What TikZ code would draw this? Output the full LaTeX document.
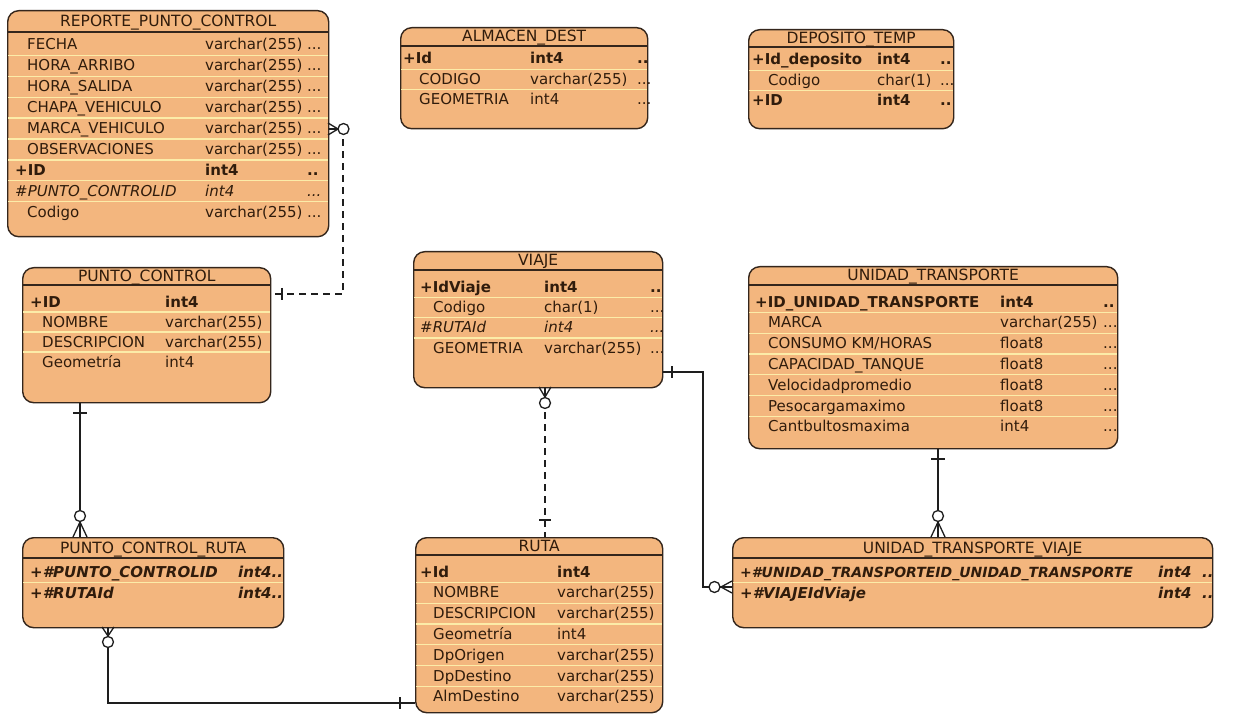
\documentclass[tikz,border=0pt]{standalone}
\usepackage{fontspec}
\setmainfont{DejaVu Sans}
\definecolor{erfill}{RGB}{243,182,126}
\definecolor{erline}{RGB}{52,38,28}
\definecolor{ersep}{RGB}{252,236,168}
\definecolor{ertext}{RGB}{48,28,12}
\definecolor{relcol}{RGB}{30,30,30}

\tikzset{
  tablebox/.style={draw=erline, line width=1.4pt, fill=erfill, rounded corners=11pt,
    inner sep=0pt, anchor=north west},
  hdrline/.style={draw=erline, line width=1.3pt},
  sepline/.style={draw=ersep, line width=1.3pt, shorten <=1.2pt, shorten >=1.2pt},
  cell/.style={anchor=base west, inner sep=0pt, text=ertext,
    font=\fontsize{15}{16}\selectfont},
  titletext/.style={anchor=base, inner sep=0pt, text=ertext,
    font=\fontsize{15.5}{17}\selectfont},
  relline/.style={draw=relcol, line width=1.3pt},
  reldash/.style={relline, dash pattern=on 7pt off 5pt},
  ring/.style={draw=relcol, line width=1.3pt, fill=white}
}

% one table row: table, index, centre y, name x, name, type x, type, dots x, dots
\newcommand\erow[9]{%
  \node[cell] (#1-n#2) at (#4,#3+5) {#5};
  \node[cell] (#1-t#2) at (#6,#3+5) {#7};
  \if\relax\detokenize{#9}\relax\else
  \node[cell] (#1-d#2) at (#8,#3+5) {#9};\fi}

% header rule and title: table, rule y, title baseline y, title
\newcommand\erhead[4]{%
  \draw[hdrline] (#1.west |- 0,#2) -- (#1.east |- 0,#2);
  \node[titletext] (#1-title) at (#1.north |- 0,#3) {#4};}

% pale rules between rows: table, first row y, row step, number of rules
\newcommand\erseps[4]{%
  \foreach \k in {1,...,#4}{%
    \draw[sepline] (#1.west |- 0,{#2+#3*\k-#3/2}) -- (#1.east |- 0,{#2+#3*\k-#3/2});}}

\begin{document}
\begin{tikzpicture}[x=1pt,y=-1pt]
\path[fill=white] (0,0) rectangle (1243,714);
\useasboundingbox (0,0) rectangle (1243,714);

% ---------------- REPORTE_PUNTO_CONTROL
\node[tablebox, minimum width=321pt, minimum height=226pt] (rpc) at (7,10) {};
\erhead{rpc}{32}{26.5}{REPORTE\_PUNTO\_CONTROL}
\erseps{rpc}{45}{20.9}{8}
\erow{rpc}{1}{45}{27}{FECHA}{205}{varchar(255)}{307}{...}
\erow{rpc}{2}{65.9}{27}{HORA\_ARRIBO}{205}{varchar(255)}{307}{...}
\erow{rpc}{3}{86.8}{27}{HORA\_SALIDA}{205}{varchar(255)}{307}{...}
\erow{rpc}{4}{107.7}{27}{CHAPA\_VEHICULO}{205}{varchar(255)}{307}{...}
\erow{rpc}{5}{128.6}{27}{MARCA\_VEHICULO}{205}{varchar(255)}{307}{...}
\erow{rpc}{6}{149.5}{27}{OBSERVACIONES}{205}{varchar(255)}{307}{...}
\erow{rpc}{7}{170.4}{15}{\bfseries +ID}{205}{\bfseries int4}{307}{\bfseries ..}
\erow{rpc}{8}{191.3}{15}{\itshape \#PUNTO\_CONTROLID}{205}{\itshape int4}{307}{\itshape ...}
\erow{rpc}{9}{212.2}{27}{Codigo}{205}{varchar(255)}{307}{...}

% ---------------- ALMACEN_DEST
\node[tablebox, minimum width=247pt, minimum height=101pt] (alm) at (400,27) {};
\erhead{alm}{46}{42}{ALMACEN\_DEST}
\erseps{alm}{59}{20.5}{2}
\erow{alm}{1}{59}{403}{\bfseries +Id}{530}{\bfseries int4}{637}{\bfseries ..}
\erow{alm}{2}{79.5}{419}{CODIGO}{530}{varchar(255)}{637}{...}
\erow{alm}{3}{100}{419}{GEOMETRIA}{530}{int4}{637}{...}

% ---------------- DEPOSITO_TEMP
\node[tablebox, minimum width=205pt, minimum height=99pt] (dep) at (748,29) {};
\erhead{dep}{47}{43.5}{DEPOSITO\_TEMP}
\erseps{dep}{60}{20.5}{2}
\erow{dep}{1}{60}{752}{\bfseries +Id\_deposito}{877}{\bfseries int4}{940}{\bfseries ..}
\erow{dep}{2}{80.5}{768}{Codigo}{877}{char(1)}{940}{...}
\erow{dep}{3}{101}{752}{\bfseries +ID}{877}{\bfseries int4}{940}{\bfseries ..}

% ---------------- PUNTO_CONTROL
\node[tablebox, minimum width=248pt, minimum height=135pt] (pc) at (22,267) {};
\erhead{pc}{285}{281.5}{PUNTO\_CONTROL}
\erseps{pc}{302}{20}{3}
\erow{pc}{1}{302}{30}{\bfseries +ID}{165}{\bfseries int4}{0}{}
\erow{pc}{2}{322}{42}{NOMBRE}{165}{varchar(255)}{0}{}
\erow{pc}{3}{342}{42}{DESCRIPCION}{165}{varchar(255)}{0}{}
\erow{pc}{4}{362}{42}{Geometría}{165}{int4}{0}{}

% ---------------- VIAJE
\node[tablebox, minimum width=249pt, minimum height=136pt] (via) at (413,251) {};
\erhead{via}{270}{266}{VIAJE}
\erseps{via}{287}{20.4}{3}
\erow{via}{1}{287}{420}{\bfseries +IdViaje}{544}{\bfseries int4}{650}{\bfseries ..}
\erow{via}{2}{307.4}{433}{Codigo}{544}{char(1)}{650}{...}
\erow{via}{3}{327.8}{420}{\itshape \#RUTAId}{544}{\itshape int4}{650}{\itshape ...}
\erow{via}{4}{348.2}{433}{GEOMETRIA}{544}{varchar(255)}{650}{...}

% ---------------- UNIDAD_TRANSPORTE
\node[tablebox, minimum width=369pt, minimum height=182pt] (ut) at (748,266) {};
\erhead{ut}{285}{281}{UNIDAD\_TRANSPORTE}
\erseps{ut}{302}{20.8}{6}
\erow{ut}{1}{302}{755}{\bfseries +ID\_UNIDAD\_TRANSPORTE}{1000}{\bfseries int4}{1103}{\bfseries ..}
\erow{ut}{2}{322.8}{768}{MARCA}{1000}{varchar(255)}{1103}{...}
\erow{ut}{3}{343.6}{768}{CONSUMO KM/HORAS}{1000}{float8}{1103}{...}
\erow{ut}{4}{364.4}{768}{CAPACIDAD\_TANQUE}{1000}{float8}{1103}{...}
\erow{ut}{5}{385.2}{768}{Velocidadpromedio}{1000}{float8}{1103}{...}
\erow{ut}{6}{406}{768}{Pesocargamaximo}{1000}{float8}{1103}{...}
\erow{ut}{7}{426.8}{768}{Cantbultosmaxima}{1000}{int4}{1103}{...}

% ---------------- PUNTO_CONTROL_RUTA
\node[tablebox, minimum width=261pt, minimum height=90pt] (pcr) at (22,537) {};
\erhead{pcr}{558}{553}{PUNTO\_CONTROL\_RUTA}
\erseps{pcr}{572}{21}{1}
\erow{pcr}{1}{572}{30}{\bfseries\itshape +\#PUNTO\_CONTROLID}{238}{\bfseries\itshape int4..}{0}{}
\erow{pcr}{2}{593}{30}{\bfseries\itshape +\#RUTAId}{238}{\bfseries\itshape int4..}{0}{}

% ---------------- RUTA
\node[tablebox, minimum width=247pt, minimum height=175pt] (ruta) at (415,537) {};
\erhead{ruta}{555}{551.5}{RUTA}
\erseps{ruta}{572}{20.8}{6}
\erow{ruta}{1}{572}{420}{\bfseries +Id}{557}{\bfseries int4}{0}{}
\erow{ruta}{2}{592.8}{433}{NOMBRE}{557}{varchar(255)}{0}{}
\erow{ruta}{3}{613.6}{433}{DESCRIPCION}{557}{varchar(255)}{0}{}
\erow{ruta}{4}{634.4}{433}{Geometría}{557}{int4}{0}{}
\erow{ruta}{5}{655.2}{433}{DpOrigen}{557}{varchar(255)}{0}{}
\erow{ruta}{6}{676}{433}{DpDestino}{557}{varchar(255)}{0}{}
\erow{ruta}{7}{696.8}{433}{AlmDestino}{557}{varchar(255)}{0}{}

% ---------------- UNIDAD_TRANSPORTE_VIAJE
\node[tablebox, minimum width=480pt, minimum height=90pt] (utv) at (732,537) {};
\erhead{utv}{558}{553}{UNIDAD\_TRANSPORTE\_VIAJE}
\erseps{utv}{572}{21}{1}
\erow{utv}{1}{572}{740}{\fontsize{14}{16}\selectfont\bfseries\itshape +\#UNIDAD\_TRANSPORTEID\_UNIDAD\_TRANSPORTE}{1158}{\bfseries\itshape int4}{1202}{\bfseries\itshape ..}
\erow{utv}{2}{593}{740}{\bfseries\itshape +\#VIAJEIdViaje}{1158}{\bfseries\itshape int4}{1202}{\bfseries\itshape ..}

% ================= relationships
% REPORTE_PUNTO_CONTROL (many) -- PUNTO_CONTROL (one), non-identifying
\coordinate (b1) at (343,294);
\draw[reldash] (rpc.east |- 0,129) -| (b1) -- (pc.east |- b1);
\draw[relline] (328,123) -- (338,129) -- (328,135) (328,129) -- (338,129);
\draw[ring] (343.5,129) circle (5.5);
\draw[relline] (282,288) -- (282,300);

% PUNTO_CONTROL (one) -- PUNTO_CONTROL_RUTA (many)
\coordinate (c2) at (80,0);
\draw[relline] (pc.south -| c2) -- (pcr.north -| c2);
\draw[relline] (73,413) -- (87,413);
\draw[relline] (73,537) -- (80,522) -- (87,537) (80,522) -- (80,537);
\draw[ring] (80,516) circle (5.5);

% VIAJE (many) -- RUTA (one), non-identifying
\coordinate (c3) at (545,0);
\draw[reldash] (via.south -| c3) -- (ruta.north -| c3);
\draw[relline] (539,387) -- (545,397) -- (551,387) (545,387) -- (545,397);
\draw[ring] (545,403) circle (5.5);
\draw[relline] (539,520) -- (551,520);

% UNIDAD_TRANSPORTE (one) -- UNIDAD_TRANSPORTE_VIAJE (many)
\coordinate (c4) at (938,0);
\draw[relline] (ut.south -| c4) -- (utv.north -| c4);
\draw[relline] (931,459) -- (945,459);
\draw[relline] (931,537) -- (938,522) -- (945,537) (938,522) -- (938,537);
\draw[ring] (938,516) circle (5.5);

% VIAJE (one) -- UNIDAD_TRANSPORTE_VIAJE (many)
\coordinate (b5) at (703,372);
\coordinate (b5b) at (703,587);
\draw[relline] (via.east |- b5) -- (b5) -- (b5b) -- (utv.west |- b5b);
\draw[relline] (672,366) -- (672,378);
\draw[relline] (732,581) -- (721,587) -- (732,593) (721,587) -- (732,587);
\draw[ring] (714.5,587) circle (5.5);

% PUNTO_CONTROL_RUTA (many) -- RUTA (one)
\coordinate (b6) at (108,703);
\draw[relline] (pcr.south -| b6) -- (b6) -- (ruta.west |- b6);
\draw[relline] (102,627) -- (108,636) -- (114,627) (108,627) -- (108,636);
\draw[ring] (108,642) circle (5.5);
\draw[relline] (400,697) -- (400,709);
\end{tikzpicture}
\end{document}
